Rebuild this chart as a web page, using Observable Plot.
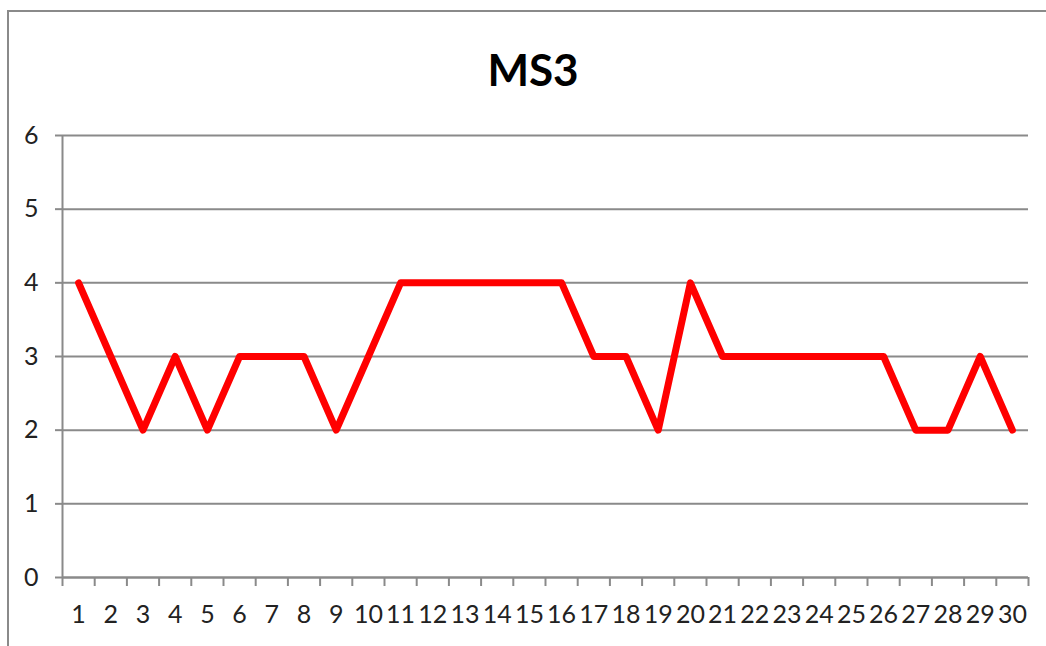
<!DOCTYPE html>
<html>
<head>
<meta charset="utf-8">
<script src="https://cdn.jsdelivr.net/npm/d3@7"></script>
<script src="https://cdn.jsdelivr.net/npm/@observablehq/plot@0.6"></script>
<style>
  html, body { margin: 0; padding: 0; background: #fff; width: 1046px; height: 646px; overflow: hidden; }
  #wrap { position: relative; width: 1046px; height: 646px; }
  #frame { position: absolute; left: 7px; top: 10px; width: 1200px; height: 800px; border: 2px solid #8a8a8a; box-sizing: border-box; }
  #title { position: relative; height: 100px; text-align: center; font-family: Lato, "Open Sans", sans-serif; font-weight: bold; font-size: 44px; line-height: 44px; padding-top: 0; box-sizing: border-box; }
  #title span { position: absolute; left: 0; right: 0; top: 47px; padding-left: 20px; }
  #chart svg { display: block; }
</style>
</head>
<body>
<div id="wrap">
  <div id="frame"></div>
  <div id="title"><span>MS3</span></div>
  <div id="chart"></div>
</div>
<script>
const days = d3.range(1, 31);
const values = [4, 3, 2, 3, 2, 3, 3, 3, 2, 3, 4, 4, 4, 4, 4, 4, 3, 3, 2, 4, 3, 3, 3, 3, 3, 3, 2, 2, 3, 2];
const yTicks = [0, 1, 2, 3, 4, 5, 6];

const data = days.map((d, i) => ({day: d, value: values[i]}));
const boundaries = d3.range(0, 31).map(i => i + 0.5);
const gray = "#8a8a8a";
const font = "Lato, 'Open Sans', sans-serif";

const chart = Plot.plot({
  width: 1046,
  height: 546,
  marginLeft: 62,
  marginRight: 18,
  marginTop: 35,
  marginBottom: 69,
  style: {fontFamily: font, fontSize: "25px", color: "#222", background: "#fff"},
  x: {type: "linear", domain: [0.5, 30.5]},
  y: {domain: [0, 6]},
  marks: [
    Plot.gridY(yTicks, {stroke: gray, strokeOpacity: 1, strokeWidth: 2}),
    Plot.axisY({ticks: yTicks, tickSize: 7, tickPadding: 17, tickFormat: d => String(d), stroke: gray, strokeWidth: 2, label: null, fontSize: 25, fill: "#222"}),
    Plot.ruleX([0.5], {y1: 0, y2: 6, stroke: gray, strokeWidth: 2}),
    Plot.ruleY([0], {x1: 0.5, x2: 30.5, stroke: gray, strokeWidth: 2}),
    Plot.axisX({ticks: boundaries, tickSize: 9, tickFormat: () => "", stroke: gray, strokeWidth: 2, label: null}),
    Plot.axisX({ticks: days, tickSize: 0, tickPadding: 28, tickFormat: d => String(d), label: null, fontSize: 25, fill: "#222"}),
    Plot.line(data, {x: "day", y: "value", stroke: "#ff0000", strokeWidth: 7, strokeLinejoin: "round", strokeLinecap: "round"})
  ]
});
document.getElementById("chart").appendChild(chart);
</script>
</body>
</html>
